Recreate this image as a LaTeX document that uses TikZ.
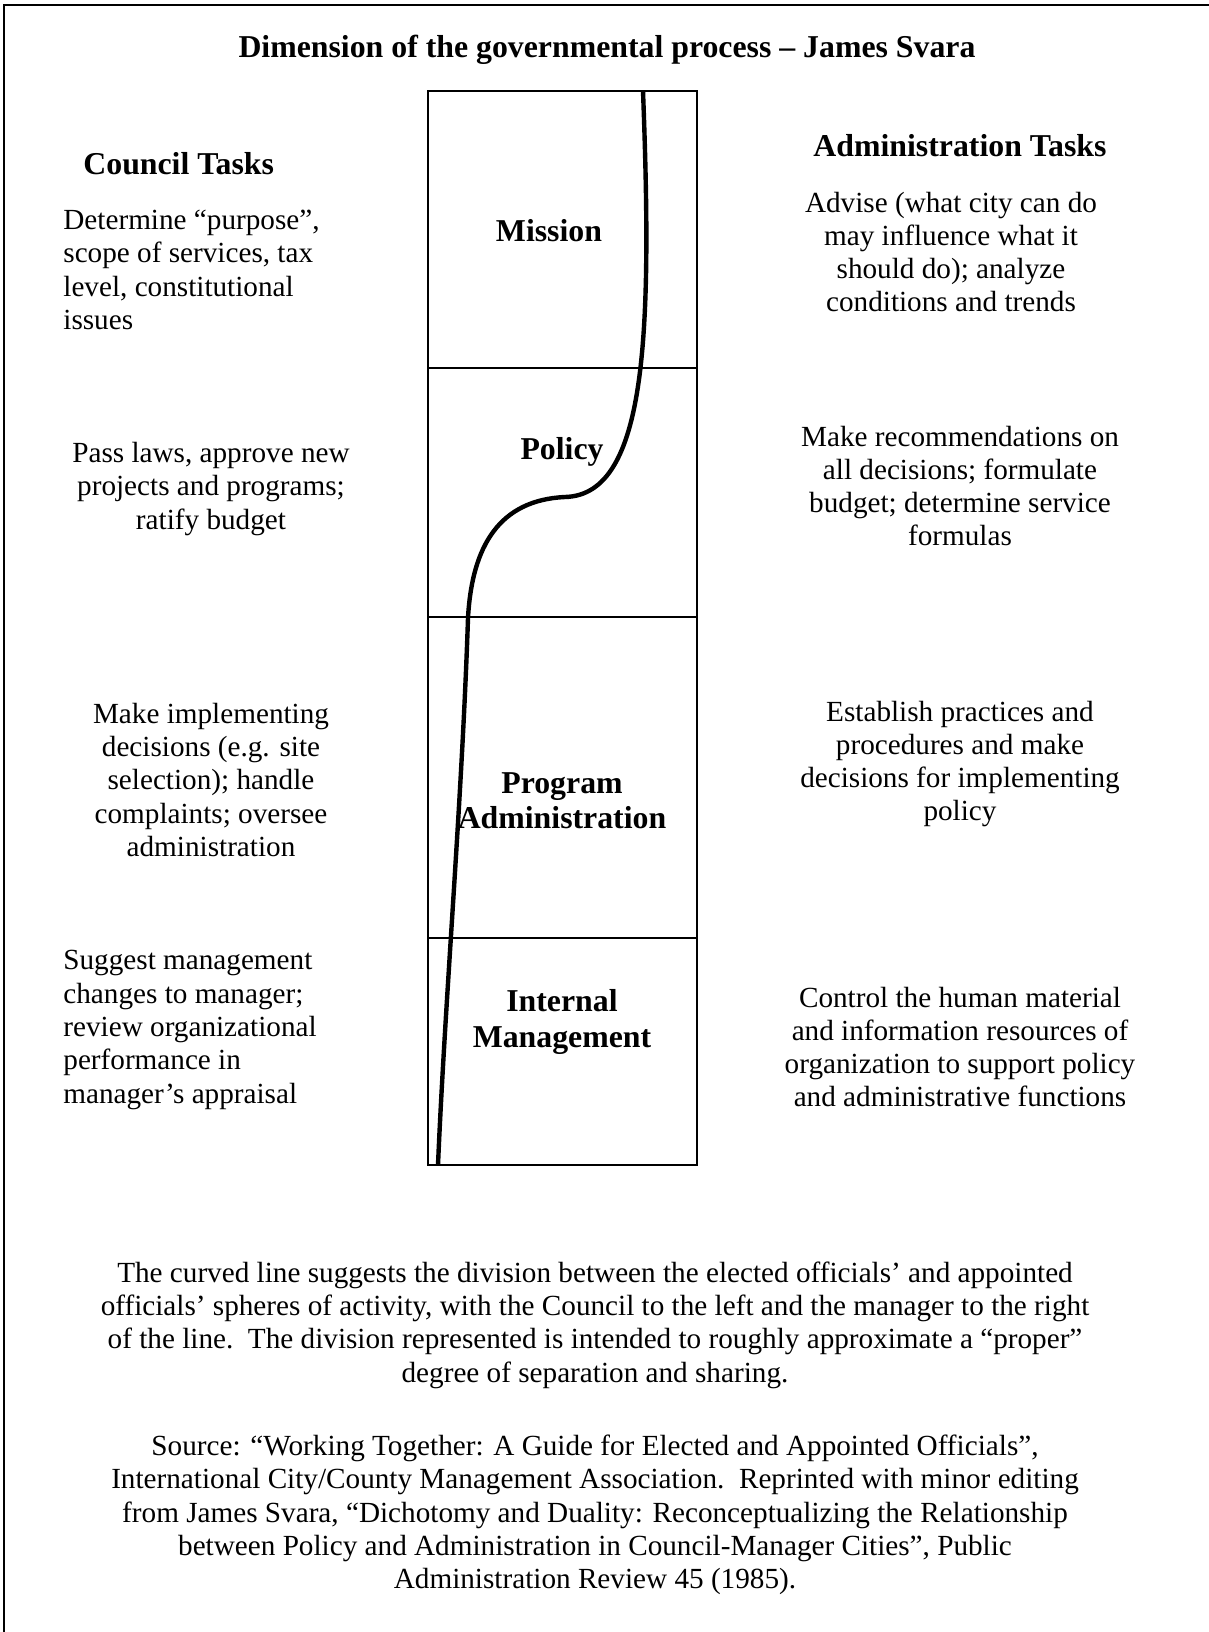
\documentclass[tikz,border=0pt]{standalone}
\usepackage{fontspec}
\setmainfont{Liberation Serif}
\usetikzlibrary{positioning}
\newcommand{\bodysize}{\fontsize{14.6}{16.65}\selectfont}
\newcommand{\headsize}{\fontsize{15.9}{17.7}\selectfont\bfseries}
\tikzset{
  heading/.style={inner sep=0pt, font=\headsize},
  stage/.style={inner sep=0pt, align=center, font=\headsize},
  task/.style={inner sep=0pt, align=center, font=\bodysize},
  lefttask/.style={inner sep=0pt, align=left, anchor=west, font=\bodysize},
  note/.style={inner sep=0pt, align=center, font=\bodysize},
  pageframe/.style={line width=1pt},
  divide/.style={line width=1pt},
  boundary/.style={line width=2.2pt}
}

\begin{document}
\begin{tikzpicture}[x=0.5pt, y=-0.5pt]
  \useasboundingbox (0,0) rectangle (1209,1632);
  % page frame (cut at right and bottom)
  \coordinate (pagebl) at (4,1632);
  \coordinate (pagetl) at (4,5);
  \coordinate (pagetr) at (1209,5);
  \draw[pageframe] (pagebl) -- (pagetl) -- (pagetr);

  \node[heading] (title) at (607,50) {Dimension of the governmental process -- James Svara};

  % the column of stages
  \coordinate (boxtl) at (428,91);
  \coordinate (boxbr) at (697,1165);
  \draw[divide] (boxtl) rectangle (boxbr);
  \foreach \y in {368,617,938}
    \draw[divide] (428,\y) -- (697,\y);

  \node[stage] (mission) at (549,231) {Mission};
  \node[stage] (policy) at (562,452) {Policy};
  \node[stage] (program) at (562,801) {Program\\Administration};
  \node[stage] (internal) at (562,1022) {Internal\\Management};

  % dividing line between council and manager
  \coordinate (linetop) at (643,91);
  \coordinate (linebend) at (565,497);
  \coordinate (linemid) at (468,618);
  \coordinate (linebot) at (438,1165);
  \draw[boundary] (linetop) .. controls (652,330) and (648,495) .. (linebend)
    .. controls (500,500) and (472,545) .. (linemid)
    .. controls (462,800) and (445,1000) .. (linebot);

  % council side
  \node[heading, anchor=west] (council) at (83,164) {Council Tasks};
  \node[lefttask] (cmission) at (63,270) {Determine “purpose”,\\scope of services, tax\\level, constitutional\\issues};
  \node[task] (cpolicy) at (211,489) {Pass laws, approve new\\projects and programs;\\ratify budget};
  \node[task] (cprogram) at (211,780) {Make implementing\\decisions (e.g. site\\selection); handle\\complaints; oversee\\administration};
  \node[lefttask] (cinternal) at (63,1030) {Suggest management\\changes to manager;\\review organizational\\performance in\\manager’s appraisal};

  % administration side
  \node[heading] (admin) at (960,146) {Administration Tasks};
  \node[task] (amission) at (951,252) {Advise (what city can do\\may influence what it\\should do); analyze\\conditions and trends};
  \node[task] (apolicy) at (960,486) {Make recommendations on\\all decisions; formulate\\budget; determine service\\formulas};
  \node[task] (aprogram) at (960,764) {Establish practices and\\procedures and make\\decisions for implementing\\policy};
  \node[task] (ainternal) at (960,1047) {Control the human material\\and information resources of\\organization to support policy\\and administrative functions};

  % notes below
  \node[note] (explain) at (595,1325) {The curved line suggests the division between the elected officials’ and appointed\\officials’ spheres of activity, with the Council to the left and the manager to the right\\of the line.\ \ The division represented is intended to roughly approximate a “proper”\\degree of separation and sharing.};
  \node[note] (source) at (595,1515) {Source: “Working Together: A Guide for Elected and Appointed Officials”,\\International City/County Management Association.\ \ Reprinted with minor editing\\from James Svara, “Dichotomy and Duality: Reconceptualizing the Relationship\\between Policy and Administration in Council-Manager Cities”, Public\\Administration Review 45 (1985).};
\end{tikzpicture}
\end{document}
